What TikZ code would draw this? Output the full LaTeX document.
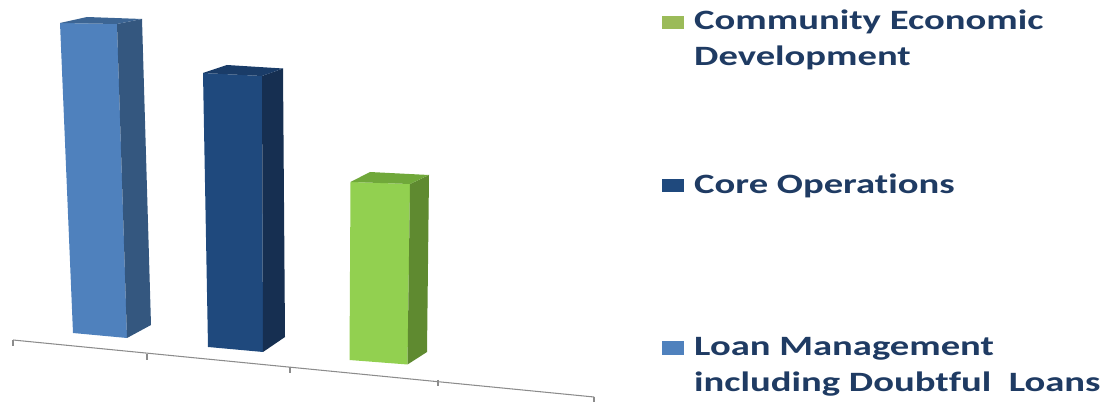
\documentclass[tikz,border=0pt]{standalone}
\usepackage{fontspec}
\setmainfont[FakeStretch=1.38, Ligatures=NoCommon]{Carlito}
\usetikzlibrary{positioning}

\definecolor{loanFront}{HTML}{4F81BD}
\definecolor{loanSide}{HTML}{34577F}
\definecolor{loanTop}{HTML}{3C6594}
\definecolor{coreFront}{HTML}{1F497D}
\definecolor{coreSide}{HTML}{162F51}
\definecolor{coreTop}{HTML}{1A3C68}
\definecolor{cedFront}{HTML}{92D050}
\definecolor{cedSide}{HTML}{5F8A30}
\definecolor{cedTop}{HTML}{70A83A}
\definecolor{cedKey}{HTML}{9BBB59}
\definecolor{legendText}{HTML}{1F3B63}
\definecolor{axisGray}{HTML}{8C8C8C}

\tikzset{
  key/.style={draw=none, minimum width=0.66cm, minimum height=0.405cm, inner sep=0pt},
  legend/.style={font=\fontsize{23.9}{30.7}\selectfont\bfseries, text=legendText,
                 align=left, inner sep=0pt, anchor=base west},
  axis/.style={draw=axisGray, line width=0.9pt}
}

\begin{document}
\begin{tikzpicture}[x=0.03cm, y=-0.03cm]
  \useasboundingbox (0,0) rectangle (1113,402);

  % Category axis with its ticks
  \coordinate (a0) at (13,340);
  \coordinate (a1) at (147,354);
  \coordinate (a2) at (290,367);
  \coordinate (a3) at (438,380);
  \coordinate (a4) at (594,397);
  \draw[axis] (a0) -- (a4);
  \foreach \t in {0,...,4}
     {\draw[axis] (a\t) -- ++(0,6.5);}

  % Loan Management bar
  \coordinate (l1) at (60,23);   \coordinate (l2) at (117,24);
  \coordinate (l3) at (127,338); \coordinate (l4) at (73,333);
  \coordinate (l5) at (87,17);   \coordinate (l6) at (142,19);
  \coordinate (l7) at (151,325);
  \fill[loanFront] (l1) -- (l2) -- (l3) -- (l4) -- cycle;
  \fill[loanSide]  (l2) -- (l6) -- (l7) -- (l3) -- cycle;
  \fill[loanTop]   (l1) -- (l5) -- (l6) -- (l2) -- cycle;

  % Core Operations bar
  \coordinate (c1) at (203,73);  \coordinate (c2) at (262,76);
  \coordinate (c3) at (263,352); \coordinate (c4) at (208,347);
  \coordinate (c5) at (227,65);  \coordinate (c6) at (283,68.5);
  \coordinate (c7) at (285,337);
  \fill[coreFront] (c1) -- (c2) -- (c3) -- (c4) -- cycle;
  \fill[coreSide]  (c2) -- (c6) -- (c7) -- (c3) -- cycle;
  \fill[coreTop]   (c1) -- (c5) -- (c6) -- (c2) -- cycle;

  % Community Economic Development bar
  \coordinate (e1) at (350.5,182); \coordinate (e2) at (410,184);
  \coordinate (e3) at (407.5,364.5); \coordinate (e4) at (349.5,360);
  \coordinate (e5) at (370,172);   \coordinate (e6) at (429,175);
  \coordinate (e7) at (427,352);
  \fill[cedFront] (e1) -- (e2) -- (e3) -- (e4) -- cycle;
  \fill[cedSide]  (e2) -- (e6) -- (e7) -- (e3) -- cycle;
  \fill[cedTop]   (e1) -- (e5) -- (e6) -- (e2) -- cycle;

  % Legend (base anchor sits on the last line)
  \node[key, fill=cedKey]    (keyCED)  at (673,22.5) {};
  \node[key, fill=coreFront] (keyCore) at (673,185.7) {};
  \node[key, fill=loanFront] (keyLoan) at (673,348) {};

  \node[legend] (txtCED)  at (694,65.7) {Community Economic\\Development};
  \node[legend] (txtCore) at (694,193.3) {Core Operations};
  \node[legend] (txtLoan) at (694,391.7) {Loan Management\\including Doubtful\ \ Loans};
\end{tikzpicture}
\end{document}
